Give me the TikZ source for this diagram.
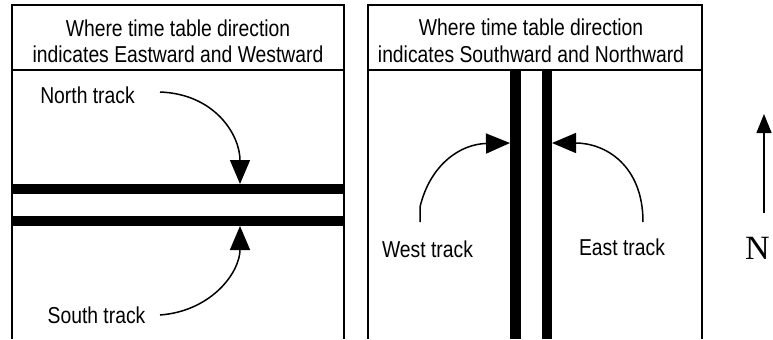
\documentclass[tikz,border=0pt]{standalone}
\usepackage{fontspec}
\usetikzlibrary{arrows.meta}
\newfontfamily\narrowfont[FakeStretch=0.84]{Liberation Sans}
\newfontfamily\compassfont{Liberation Serif}
\begin{document}
\begin{tikzpicture}[x=1bp,y=-1bp,
  frame/.style={line width=2bp},
  bar/.style={fill=black,inner sep=0pt,outer sep=0pt,draw=none},
  lbl/.style={inner sep=0pt,anchor=base,font=\narrowfont\fontsize{23bp}{26bp}\selectfont},
  pointer/.style={line width=1.5bp,-{Triangle[length=24bp,width=20bp]}},
  compass/.style={line width=1.5bp,-{Triangle[length=19bp,width=15bp]}}]
\useasboundingbox (0,0) rectangle (773,339);
% left panel
\draw[frame] (12,339) -- (12,5) -- (344,5) -- (344,339);
\draw[frame] (12,70) -- (344,70);
\node[lbl] (h1a) at (178,36) {Where time table direction};
\node[lbl] (h1b) at (178,62) {indicates Eastward and Westward};
\node[bar,minimum width=332bp,minimum height=10bp] (ntrack) at (178,189) {};
\node[bar,minimum width=332bp,minimum height=10bp] (strack) at (178,221) {};
\node[lbl] (nlab) at (87.5,103) {North track};
\node[lbl] (slab) at (96.5,323) {South track};
\coordinate (nstart) at (160,92);
\coordinate (ntip) at (240,184);
\coordinate (sstart) at (160,315);
\coordinate (stip) at (240,226);
\draw[pointer] (nstart) .. controls (215,94) and (240,135) .. (ntip);
\draw[pointer] (sstart) .. controls (212,311) and (240,272) .. (stip);
% right panel
\draw[frame] (368,339) -- (368,5) -- (702,5) -- (702,339);
\draw[frame] (368,70) -- (702,70);
\node[lbl] (h2a) at (531,35) {Where time table direction};
\node[lbl] (h2b) at (531,62) {indicates Southward and Northward};
\node[bar,minimum width=10.5bp,minimum height=269bp] (wtrack) at (515.5,204.5) {};
\node[bar,minimum width=10.5bp,minimum height=269bp] (etrack) at (547,204.5) {};
\node[lbl] (wlab) at (427.5,257) {West track};
\node[lbl] (elab) at (622,255) {East track};
\coordinate (wstart) at (420,222);
\coordinate (wbend) at (420,207);
\coordinate (wtip) at (510,143);
\coordinate (estart) at (643,222);
\coordinate (etip) at (552,143);
\draw[pointer] (wstart) -- (wbend) .. controls (430,165) and (460,144) .. (wtip);
\draw[pointer] (estart) .. controls (643,165) and (605,143) .. (etip);
% compass
\coordinate (cbase) at (764,213);
\coordinate (ctip) at (764,114);
\draw[compass] (cbase) -- (ctip);
\node[inner sep=0pt,anchor=base west,font=\compassfont\fontsize{34bp}{36bp}\selectfont] (nmark) at (745,259) {N};
\end{tikzpicture}
\end{document}
